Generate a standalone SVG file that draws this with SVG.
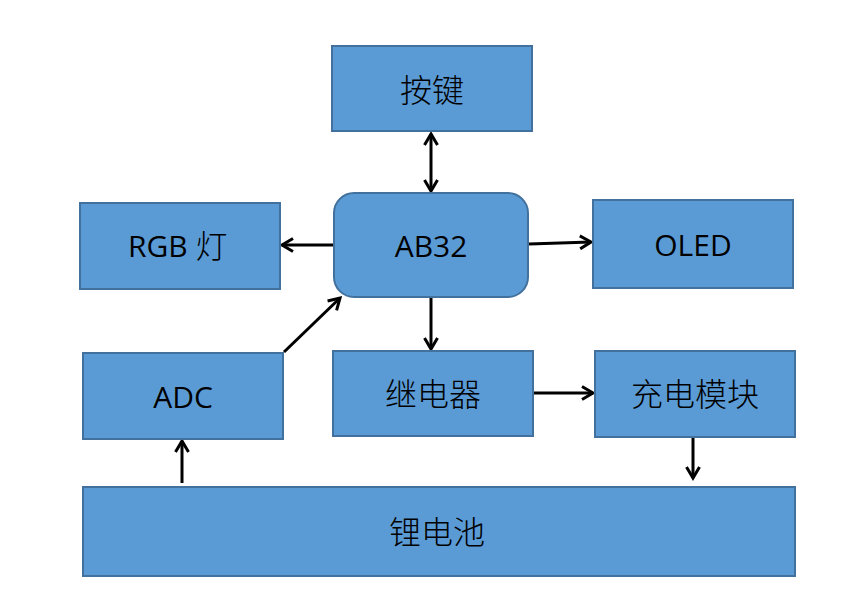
<svg xmlns="http://www.w3.org/2000/svg" width="861" height="606" viewBox="0 0 861 606">
<defs>
<style>
.box{fill:#5B9BD5;stroke:#41719C;stroke-width:2}
.t{font-family:"Open Sans","Liberation Sans",sans-serif;font-size:30px;fill:#000;text-anchor:middle;dominant-baseline:central}
.z{font-family:"Noto Sans CJK SC","Noto Sans CJK JP",sans-serif;font-size:32px;font-weight:300;fill:#000;text-anchor:middle;dominant-baseline:central}
.c{stroke:#000;stroke-width:3;fill:none}
</style>
<marker id="ah" viewBox="0 0 16 16" refX="13" refY="8" markerWidth="16" markerHeight="16" markerUnits="userSpaceOnUse" orient="auto-start-reverse">
<path d="M2,1.5 L13,8 L2,14.5" fill="none" stroke="#000" stroke-width="3"/>
</marker>
</defs>
<rect width="861" height="606" fill="#fff"/>
<g id="connectors">
<line class="c" x1="431" y1="134" x2="431" y2="191" marker-start="url(#ah)" marker-end="url(#ah)"/>
<line class="c" x1="333" y1="245" x2="282" y2="245" marker-end="url(#ah)"/>
<line class="c" x1="529" y1="244" x2="591" y2="242" marker-end="url(#ah)"/>
<line class="c" x1="284" y1="352" x2="340" y2="298" marker-end="url(#ah)"/>
<line class="c" x1="431" y1="298" x2="431" y2="349" marker-end="url(#ah)"/>
<line class="c" x1="534" y1="393" x2="593" y2="393" marker-end="url(#ah)"/>
<line class="c" x1="693" y1="438" x2="693" y2="478" marker-end="url(#ah)"/>
<line class="c" x1="182" y1="483" x2="182" y2="441" marker-end="url(#ah)"/>
</g>
<g id="anjian"><rect class="box" x="332" y="46" width="200" height="85"/><text class="z" x="432" y="88">按键</text></g>
<g id="ab32"><rect class="box" x="334" y="193" width="194" height="104" rx="20"/><text class="t" x="431" y="245">AB32</text></g>
<g id="rgb"><rect class="box" x="80" y="203" width="200" height="86"/><text x="180" y="245"><tspan class="t" style="text-anchor:start" x="128">RGB </tspan><tspan class="z" style="text-anchor:start" dy="-1">灯</tspan></text></g>
<g id="oled"><rect class="box" x="593" y="200" width="200" height="88"/><text class="t" x="693" y="244">OLED</text></g>
<g id="adc"><rect class="box" x="83" y="353" width="200" height="86"/><text class="t" x="183" y="396">ADC</text></g>
<g id="relay"><rect class="box" x="333" y="351" width="200" height="85"/><text class="z" x="433" y="392">继电器</text></g>
<g id="charge"><rect class="box" x="595" y="351" width="200" height="86"/><text class="z" x="695" y="392">充电模块</text></g>
<g id="battery"><rect class="box" x="83" y="487" width="712" height="89"/><text class="z" x="437" y="530">锂电池</text></g>
</svg>
